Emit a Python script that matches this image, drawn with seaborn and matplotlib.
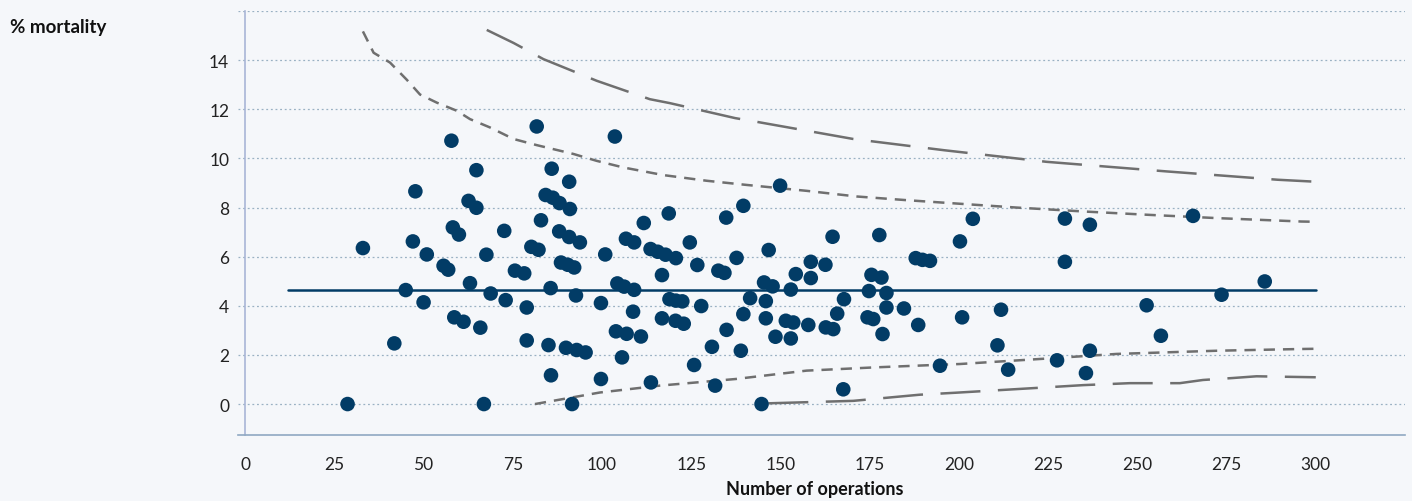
import numpy as np
import pandas as pd
import matplotlib
matplotlib.use("Agg")
import matplotlib.pyplot as plt
import seaborn as sns

# hospitals: number of operations vs % mortality
operations = [28.7, 33.0, 41.8, 45.0, 47.0, 47.7, 50.0, 50.9, 55.6, 56.9,
              57.8, 58.2, 59.9, 58.6, 61.2, 62.6, 64.8, 64.8, 63.0, 65.9,
              66.9, 67.6, 68.8, 72.6, 73.0, 75.6, 78.2, 78.9, 78.9, 80.2,
              82.2, 81.7, 82.9, 85.6, 85.0, 85.7, 85.9, 84.2, 86.2, 88.1,
              91.0, 90.8, 88.0, 90.8, 93.8, 88.5, 90.4, 92.2, 92.7, 89.9,
              92.9, 95.4, 91.6, 100.9, 99.7, 99.7, 103.6, 104.3, 106.2, 109.0,
              106.7, 109.0, 111.7, 108.7, 103.9, 106.9, 110.9, 105.6, 113.7, 113.6,
              115.6, 117.8, 120.7, 116.8, 118.7, 118.9, 120.7, 122.5, 116.8, 120.6,
              122.9, 124.6, 126.7, 127.8, 125.8, 130.8, 131.7, 132.6, 134.3, 134.8,
              134.9, 137.7, 139.6, 139.6, 138.9, 141.5, 149.9, 146.7, 145.4, 147.8,
              145.9, 145.9, 148.6, 144.7, 152.9, 154.3, 158.5, 158.5, 162.6, 164.6,
              151.5, 153.6, 152.9, 157.8, 162.7, 164.8, 165.9, 167.8, 167.6, 177.7,
              175.5, 178.3, 174.8, 179.7, 179.7, 174.4, 176.0, 178.6, 184.6, 188.6,
              187.9, 189.8, 191.9, 194.7, 200.3, 200.9, 203.9, 211.8, 210.8, 213.8,
              229.7, 236.7, 229.7, 227.5, 236.7, 235.6, 265.6, 252.6, 256.6, 273.6,
              285.7]
mortality = [0.0, 6.35, 2.47, 4.64, 6.62, 8.66, 4.14, 6.09, 5.63, 5.47,
             10.72, 7.19, 6.90, 3.53, 3.35, 8.27, 7.99, 9.52, 4.92, 3.11,
             0.0, 6.08, 4.50, 7.05, 4.23, 5.43, 5.32, 3.93, 2.59, 6.40,
             6.28, 11.30, 7.48, 4.72, 2.40, 1.17, 9.58, 8.51, 8.40, 8.18,
             7.94, 9.05, 7.03, 6.80, 6.58, 5.76, 5.67, 5.56, 4.42, 2.29,
             2.20, 2.10, 0.0, 6.09, 4.11, 1.02, 10.89, 4.91, 4.78, 4.65,
             6.73, 6.58, 7.37, 3.76, 2.96, 2.86, 2.75, 1.90, 0.88, 6.31,
             6.20, 6.08, 5.94, 5.25, 7.76, 4.27, 4.21, 4.18, 3.49, 3.39,
             3.27, 6.58, 5.66, 3.99, 1.59, 2.33, 0.75, 5.43, 5.34, 7.59,
             3.02, 5.95, 8.07, 3.66, 2.17, 4.31, 8.89, 6.27, 4.95, 4.79,
             4.19, 3.49, 2.74, 0.0, 4.66, 5.29, 5.79, 5.13, 5.67, 6.81,
             3.39, 3.32, 2.67, 3.22, 3.12, 3.05, 3.68, 4.27, 0.60, 6.88,
             5.26, 5.15, 4.60, 4.52, 3.93, 3.53, 3.46, 2.85, 3.89, 3.22,
             5.94, 5.87, 5.83, 1.56, 6.62, 3.53, 7.54, 3.84, 2.39, 1.40,
             7.55, 7.30, 5.79, 1.78, 2.17, 1.26, 7.66, 4.02, 2.78, 4.45,
             4.99]

# overall mean
mean_x = [12, 300]
mean_y = [4.64, 4.64]

# inner limits (short dashes)
inner_up_x = [33, 36, 40.6, 45.3, 49, 53.7, 59.3, 63, 68.6, 75.2, 81.7, 92, 98.5,
              106, 117.2, 129.3, 140.5, 157.3, 171.3, 185.3, 199.6, 216, 234.8,
              253.5, 272.2, 296, 300]
inner_up_y = [15.17, 14.3, 13.9, 13.2, 12.6, 12.27, 11.94, 11.6, 11.26, 10.79, 10.54,
              10.18, 9.9, 9.63, 9.32, 9.09, 8.92, 8.68, 8.45, 8.30, 8.16, 8.0, 7.84,
              7.70, 7.57, 7.43, 7.42]
inner_lo_x = [81.2, 99.4, 116.2, 137.5, 157.3, 176, 194.7, 200.3, 225.5, 244.2,
              272.2, 295.5, 300]
inner_lo_y = [0.0, 0.47, 0.75, 1.02, 1.36, 1.49, 1.6, 1.63, 1.86, 2.04, 2.17, 2.24, 2.25]

# outer limits (long dashes)
outer_up_x = [67.7, 75.2, 83.6, 98.5, 113.4, 119, 126.5, 137.3, 143.3, 170.4,
              196, 224.6, 258.2, 289.4, 300]
outer_up_y = [15.23, 14.7, 14.04, 13.16, 12.41, 12.25, 12.0, 11.64, 11.49, 10.79,
              10.33, 9.86, 9.47, 9.13, 9.05]
outer_lo_x = [146.6, 170.4, 189, 199, 219.9, 234.8, 247.9, 261.9, 268.4, 276.8,
              283.4, 300]
outer_lo_y = [0.03, 0.13, 0.38, 0.46, 0.64, 0.77, 0.85, 0.85, 0.98, 1.06, 1.13, 1.09]

df = pd.DataFrame({"operations": operations, "mortality": mortality})

bg = "#f5f7fa"
navy = "#023c66"
grey = "#6f6f6f"

sns.set_style("white")
plt.rcParams["font.family"] = ["Lato", "DejaVu Sans"]

fig = plt.figure(figsize=(14.12, 5.02), dpi=100, facecolor=bg)
ax = fig.add_axes([238 / 1412, 1 - 436 / 502, (1405 - 238) / 1412, (436 - 12) / 502])
ax.set_facecolor(bg)

ax.plot(inner_up_x, inner_up_y, color=grey, lw=1.8, linestyle=(0, (4.5, 3.2)), zorder=2)
ax.plot(inner_lo_x, inner_lo_y, color=grey, lw=1.8, linestyle=(0, (4.5, 3.2)), zorder=2)
ax.plot(outer_up_x, outer_up_y, color=grey, lw=1.8, linestyle=(0, (16, 7)), zorder=2)
ax.plot(outer_lo_x, outer_lo_y, color=grey, lw=1.8, linestyle=(0, (16, 7)), zorder=2)
ax.plot(mean_x, mean_y, color=navy, lw=1.8, zorder=3)

sns.scatterplot(data=df, x="operations", y="mortality", ax=ax, color=navy,
                s=110, edgecolor="none", linewidth=0, zorder=4)

ax.set_xlim(-2, 325)
ax.set_ylim(-1.26, 16)
ax.set_xticks(np.arange(0, 301, 25))
ax.set_xticks(np.arange(12.5, 325, 25), minor=True)
ax.set_yticks(np.arange(0, 15, 2))

# dotted gridlines, including top line at 16
for yv in list(np.arange(0, 17, 2)):
    ax.axhline(yv, color="#9ab1c3", lw=0.9, linestyle=(0, (1.5, 2.2)), zorder=1)

for s in ["top", "right"]:
    ax.spines[s].set_visible(False)
ax.spines["left"].set_position(("data", 0))
ax.spines["left"].set_color("#a9b5d6")
ax.spines["left"].set_linewidth(1.2)
ax.spines["bottom"].set_color("#8fa8c2")
ax.spines["bottom"].set_linewidth(1.2)

ax.tick_params(axis="x", which="major", direction="out", length=6, width=1,
               color="#8fa8c2", labelsize=12.5, labelcolor="#222222", pad=9)
ax.tick_params(axis="x", which="minor", direction="in", length=4, width=0.8,
               color="#c9d4de")
ax.tick_params(axis="y", length=0, labelsize=12.5, labelcolor="#222222", pad=11.5)

ax.set_xlabel("")
ax.set_ylabel("")

fig.text(10 / 1412, 1 - 28 / 502, "% mortality", ha="left", va="center",
         fontsize=13.5, fontweight="bold", color="#111111")
fig.text(815 / 1412, 1 - 490 / 502, "Number of operations", ha="center", va="center",
         fontsize=13, fontweight="bold", color="#111111")

fig.savefig("out.png", dpi=100, facecolor=bg)
